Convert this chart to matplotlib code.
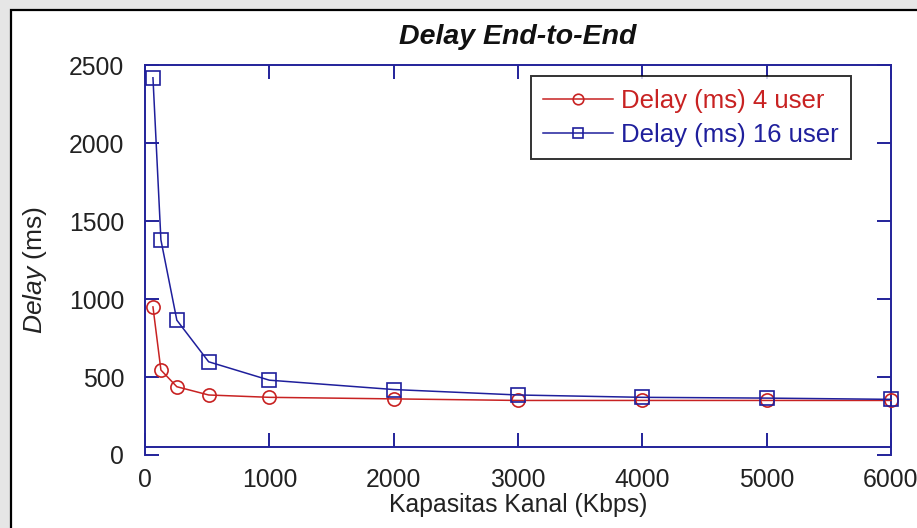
import matplotlib
matplotlib.use("Agg")
import matplotlib.pyplot as plt
from matplotlib.patches import Rectangle

# Channel capacity (Kbps) and measured end-to-end delay (ms)
kapasitas = [64, 128, 256, 512, 1000, 2000, 3000, 4000, 5000, 6000]
delay_4_user = [950, 545, 438, 385, 370, 360, 350, 350, 350, 350]
delay_16_user = [2420, 1380, 865, 598, 480, 420, 385, 370, 365, 357]

x_ticks = [0, 1000, 2000, 3000, 4000, 5000, 6000]
y_ticks = [0, 500, 1000, 1500, 2000, 2500]

label_4 = "Delay (ms) 4 user"
label_16 = "Delay (ms) 16 user"
title_text = "Delay End-to-End"
xlabel_text = "Kapasitas Kanal (Kbps)"

plt.rcParams["font.family"] = ["Liberation Sans", "DejaVu Sans"]
plt.rcParams["mathtext.fontset"] = "custom"
plt.rcParams["mathtext.rm"] = "Liberation Sans"
plt.rcParams["mathtext.it"] = "Liberation Sans:italic"

RED = "#c82222"
BLUE = "#1f1f9c"
AXIS = "#23239a"
TEXT = "#222222"

W, H = 917, 528
fig = plt.figure(figsize=(W / 100, H / 100), dpi=100)
fig.patch.set_facecolor("#e6e6e6")

# white panel with a black frame, kept behind the axes
panel = Rectangle((11 / W, -0.05), 1.05, (H - 10) / H + 0.05,
                  transform=fig.transFigure, facecolor="white",
                  edgecolor="black", linewidth=1.6, zorder=-10)
fig.patches.append(panel)

ax = fig.add_axes([145 / W, (H - 455) / H, (891 - 145) / W, (455 - 65.3) / H])
ax.set_zorder(1)
ax.set_facecolor("white")

ax.plot(kapasitas, delay_4_user, color=RED, lw=1.1, marker="o", ms=9.5,
        mfc="none", mec=RED, mew=1.2, label=label_4, clip_on=False, zorder=3)
ax.plot(kapasitas, delay_16_user, color=BLUE, lw=1.1, marker="s", ms=9.5,
        mfc="none", mec=BLUE, mew=1.2, label=label_16, clip_on=False, zorder=3)

ax.set_xlim(0, 6000)
ax.set_ylim(0, 2500)
ax.set_xticks(x_ticks)
ax.set_yticks(y_ticks)

for side in ["left", "right", "top", "bottom"]:
    ax.spines[side].set_color(AXIS)
    ax.spines[side].set_linewidth(1.4)
ax.spines["bottom"].set_position(("data", 50))

ax.tick_params(axis="both", which="major", direction="in", length=10,
               width=1.4, color=AXIS, labelcolor=TEXT, labelsize=17.8,
               top=True, right=True)
ax.tick_params(axis="x", pad=15)
ax.tick_params(axis="y", pad=15)

ax.set_title(title_text, fontsize=20.5, fontweight="bold", fontstyle="italic",
             color="#111111", pad=15)
ax.set_xlabel(xlabel_text, fontsize=17.8, color=TEXT, labelpad=0.5)
ax.set_ylabel(r"$\mathit{Delay}$ (ms)", fontsize=19, color=TEXT)
ax.yaxis.set_label_coords((49 - 145) / (891 - 145), (455 - 270) / (455 - 65.3))

leg = ax.legend(loc="upper right", bbox_to_anchor=((851 - 145) / (891 - 145), (455 - 76) / (455 - 65.3)),
                borderaxespad=0, fontsize=18.5, frameon=True, fancybox=False,
                handlelength=2.7, handletextpad=0.3, labelspacing=0.38,
                borderpad=0.5, markerscale=0.8)
leg.get_frame().set_edgecolor("black")
leg.get_frame().set_linewidth(1.4)
for txt, c in zip(leg.get_texts(), [RED, BLUE]):
    txt.set_color(c)

fig.savefig("out.png", dpi=100, facecolor=fig.get_facecolor())
